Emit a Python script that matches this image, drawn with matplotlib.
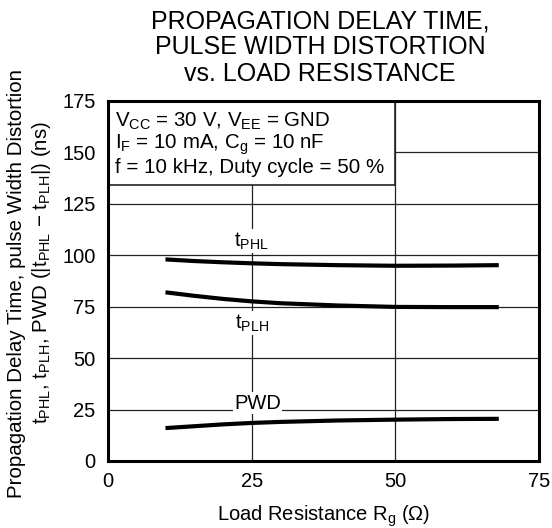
import matplotlib
matplotlib.use("Agg")
import matplotlib.pyplot as plt
from matplotlib.patches import Rectangle

plt.rcParams["font.family"] = ["Liberation Sans", "DejaVu Sans"]
plt.rcParams["mathtext.fontset"] = "custom"
plt.rcParams["mathtext.rm"] = "Liberation Sans"
plt.rcParams["mathtext.it"] = "Liberation Sans"

r_load = [10, 15, 20, 25, 30, 40, 50, 60, 68]
t_phl = [98.0, 97.2, 96.6, 96.1, 95.7, 95.2, 94.9, 95.0, 95.2]
t_plh = [82.0, 80.3, 78.8, 77.6, 76.7, 75.6, 74.9, 74.8, 74.8]
pwd = [16.0, 16.9, 17.8, 18.5, 19.0, 19.7, 20.1, 20.4, 20.5]

W, H = 552, 528
fig = plt.figure(figsize=(W / 100, H / 100), dpi=100)
ax = fig.add_axes([108 / W, 1 - 461 / H, 431 / W, 360 / H])

for y in (t_phl, t_plh, pwd):
    ax.plot(r_load, y, color="black", lw=3.0, solid_capstyle="butt", zorder=3)

ax.set_xlim(0, 75)
ax.set_ylim(0, 175)
ax.set_xticks([0, 25, 50, 75])
ax.set_yticks(range(0, 176, 25))
ax.grid(True, color="#222222", lw=0.9)
ax.tick_params(length=0, labelsize=14.5)
ax.tick_params(axis="y", pad=9)
ax.tick_params(axis="x", pad=8)
for s in ax.spines.values():
    s.set_linewidth(2.2)
    s.set_zorder(6)

box = dict(facecolor="white", edgecolor="none", pad=1)
ax.text(25, 107, r"t$_{\mathregular{PHL}}$", fontsize=14.5, ha="center", va="center", bbox=box, zorder=4)
ax.text(25, 67, r"t$_{\mathregular{PLH}}$", fontsize=14.5, ha="center", va="center", bbox=box, zorder=4)
ax.text(26, 28, "PWD", fontsize=14.5, ha="center", va="center", bbox=box, zorder=4)

ax.add_patch(Rectangle((0, 134), 50, 41, facecolor="white", edgecolor="#222222", lw=1.2, zorder=4))
ax.text(1.3, 170.5, "V$_{\\mathregular{CC}}$ = 30 V, V$_{\\mathregular{EE}}$ = GND\n"
        "I$_{\\mathregular{F}}$ = 10 mA, C$_{\\mathregular{g}}$ = 10 nF\n"
        "f = 10 kHz, Duty cycle = 50 %",
        fontsize=14.8, ha="left", va="top", linespacing=1.05, zorder=5)

ax.set_xlabel(r"Load Resistance R$_{\mathregular{g}}$ ($\Omega$)", fontsize=14.5, labelpad=9)

fig.text(17 / W, 1 - 284 / H, "Propagation Delay Time, pulse Width Distortion",
         fontsize=14.8, rotation=90, ha="center", va="center")
fig.text(42 / W, 1 - 272 / H,
         r"t$_{\mathregular{PHL}}$, t$_{\mathregular{PLH}}$, PWD (|t$_{\mathregular{PHL}}$ $-$ t$_{\mathregular{PLH}}$|) (ns)",
         fontsize=14.8, rotation=90, ha="center", va="center")

fig.text(320 / W, 1 - 47.5 / H, "PROPAGATION DELAY TIME,\nPULSE WIDTH DISTORTION\nvs. LOAD RESISTANCE",
         fontsize=18, linespacing=1.13, ha="center", va="center")

fig.savefig("out.png", dpi=100)
